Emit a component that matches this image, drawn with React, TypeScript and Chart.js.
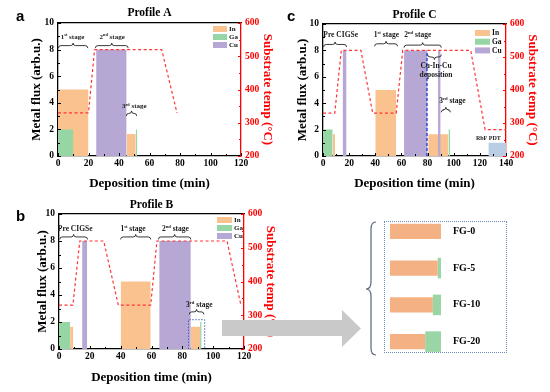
import React, { useEffect, useRef } from 'react';
import { Chart, registerables } from 'chart.js';

Chart.register(...registerables);

const SERIF = '"Liberation Serif", "Times New Roman", serif';
const SANS = '"Liberation Sans", Arial, sans-serif';

type Seg = [number, number, number]; // start, end, flux
type Pt = [number, number];

// ---------------- data ----------------
const LEGEND_LABELS = ['In', 'Ga', 'Cu'];
const X_TITLE = 'Deposition time (min)';
const Y_TITLE = 'Metal flux (arb.u.)';
const Y1_TITLE = 'Substrate temp (°C)';

// Profile A
const A_IN: Seg[] = [[0, 20, 5], [45, 51, 1.65]];
const A_GA: Seg[] = [[0, 10, 2], [51, 52, 2]];
const A_CU: Seg[] = [[25, 45, 8]];
const A_TEMP: Pt[] = [[0, 330], [20, 330], [24, 520], [68, 520], [78, 330]];

// Profile B
const B_IN: Seg[] = [[7.2, 9.3, 1.65], [40, 59.5, 5], [85.5, 91.5, 1.65]];
const B_GA: Seg[] = [[0, 7.2, 2], [91.5, 92.5, 2]];
const B_CU: Seg[] = [[15, 18.3, 8], [65, 85.5, 8]];
const B_TEMP: Pt[] = [[0, 330], [9, 330], [13.5, 520], [29, 520], [38.5, 330], [59.5, 330], [63.5, 520], [109, 520], [118, 330]];
const B_BOX: Pt[] = [[84, 0], [84, 2.17], [94.5, 2.17], [94.5, 0]];

// Profile C
const C_IN: Seg[] = [[7.4, 9.2, 1.65], [40, 56, 5], [80.5, 96, 1.65]];
const C_GA: Seg[] = [[0, 7.4, 2], [96, 97.3, 2]];
const C_CU: Seg[] = [[15, 18, 8], [62, 80, 8], [88, 90, 8]];
const C_RBF: Seg[] = [[126.5, 140, 1]];
const C_TEMP: Pt[] = [[0, 330], [9, 330], [14, 520], [29, 520], [38, 330], [56, 330], [61, 520], [113, 520], [124, 280], [140, 280]];
const C_MARK: Pt[] = [[79.5, 0], [79.5, 8]];

// FG panel
const FG_LABELS = ['FG-0', 'FG-5', 'FG-10', 'FG-20'];
const FG_IN = [100, 93.5, 84, 69];
const FG_GA = [0, 6.5, 16, 31];

// ---------------- styles ----------------
const COL: Record<string, string> = {
  In: '#F9C28F',
  Ga: '#96D6A4',
  Cu: '#B6A7D4',
  RbF: '#B9CDE5',
  temp: '#FF3535',
  red: '#FF0000',
  blue: '#3A56D8',
  fgIn: '#F4B183',
  fgGa: '#99D5A5',
};

type Brace = { x0: number; x1: number; y: number; down?: boolean };
type Label = { text: string; x: number; y: number; size?: number };
type Line = { pts: Pt[]; color: string; dash: number[]; width: number };

interface PanelCfg {
  letter: string;
  title: string;
  xMax: number;
  inSeg: Seg[];
  gaSeg: Seg[];
  cuSeg: Seg[];
  rbfSeg?: Seg[];
  temp: Pt[];
  lines?: Line[];
  braces: Brace[];
  labels: Label[];
  annSize: number;
  box: { x: number; y: number; w: number; h: number };
  pad: { left: number; right: number; bottom: number };
  yW: number;
  y1W: number;
  xH: number;
  topH: number;
  titleY: number;
  letterX: number;
  letterY: number;
  legend: { dx: number; dy: number; w: number; h: number; step: number; font: number };
}

const PANEL_A: PanelCfg = {
  letter: 'a', title: 'Profile A', xMax: 120,
  inSeg: A_IN, gaSeg: A_GA, cuSeg: A_CU, temp: A_TEMP,
  braces: [
    { x0: 0.3, x1: 19.5, y: 8.3 },
    { x0: 24.5, x1: 46, y: 8.3 },
    { x0: 44.8, x1: 51.6, y: 3.2 },
  ],
  labels: [
    { text: '1^{st} stage', x: 9.5, y: 9.0 },
    { text: '2^{nd} stage', x: 35.5, y: 9.0 },
    { text: '3^{rd} stage', x: 50, y: 3.75 },
  ],
  annSize: 7,
  box: { x: 0, y: 0, w: 280, h: 195 },
  pad: { left: 29, right: 5, bottom: 4 },
  yW: 29, y1W: 34, xH: 35, topH: 23,
  titleY: 13, letterX: 16, letterY: 21,
  legend: { dx: 28, dy: 3, w: 14, h: 6, step: 8, font: 7 },
};

const PANEL_C: PanelCfg = {
  letter: 'c', title: 'Profile C', xMax: 140,
  inSeg: C_IN, gaSeg: C_GA, cuSeg: C_CU, rbfSeg: C_RBF, temp: C_TEMP,
  lines: [{ pts: C_MARK, color: COL.blue, dash: [3, 2], width: 1.6 }],
  braces: [
    { x0: 0.5, x1: 18, y: 8.45 },
    { x0: 39.5, x1: 57, y: 8.5 },
    { x0: 62, x1: 90.5, y: 8.4 },
    { x0: 80, x1: 90.5, y: 7.5, down: true },
    { x0: 90.5, x1: 97.5, y: 3.5 },
  ],
  labels: [
    { text: 'Pre CIGSe', x: 13.5, y: 9.2 },
    { text: '1^{st} stage', x: 48.5, y: 9.2 },
    { text: '2^{nd} stage', x: 72.5, y: 9.2 },
    { text: 'Cu-In-Cu', x: 86.5, y: 6.85 },
    { text: 'deposition', x: 86.5, y: 6.15 },
    { text: '3^{rd} stage', x: 99, y: 4.2 },
    { text: 'RbF PDT', x: 126.5, y: 1.4, size: 6 },
  ],
  annSize: 7.5,
  box: { x: 275, y: 0, w: 275, h: 195 },
  pad: { left: 20, right: 10, bottom: 4 },
  yW: 28, y1W: 34, xH: 35, topH: 24,
  titleY: 15.5, letterX: 12, letterY: 21,
  legend: { dx: 31, dy: 6, w: 15, h: 6, step: 8.7, font: 7.5 },
};

const PANEL_B: PanelCfg = {
  letter: 'b', title: 'Profile B', xMax: 120,
  inSeg: B_IN, gaSeg: B_GA, cuSeg: B_CU, temp: B_TEMP,
  lines: [{ pts: B_BOX, color: '#4A62B8', dash: [1.5, 1.5], width: 1 }],
  braces: [
    { x0: 0.5, x1: 18.5, y: 8.3 },
    { x0: 40, x1: 59.5, y: 8.3 },
    { x0: 64.5, x1: 85.5, y: 8.3 },
    { x0: 84.5, x1: 94, y: 2.75 },
  ],
  labels: [
    { text: 'Pre CIGSe', x: 10.5, y: 8.95 },
    { text: '1^{st} stage', x: 48, y: 8.95 },
    { text: '2^{nd} stage', x: 75.5, y: 8.95 },
    { text: '3^{rd} stage', x: 91, y: 3.3 },
  ],
  annSize: 7.5,
  box: { x: 0, y: 195, w: 280, h: 197 },
  pad: { left: 35, right: 2, bottom: 6.5 },
  yW: 24, y1W: 34, xH: 36.5, topH: 19,
  titleY: 10.5, letterX: 16, letterY: 26,
  legend: { dx: 27, dy: 3, w: 15, h: 6, step: 8, font: 7 },
};

// ---------------- drawing helpers ----------------
function drawRich(ctx: CanvasRenderingContext2D, text: string, cx: number, cy: number, size: number, color = '#1a1a1a') {
  const parts: { t: string; sup: boolean }[] = [];
  const re = /\^\{([^}]*)\}/g;
  let last = 0;
  let m: RegExpExecArray | null;
  while ((m = re.exec(text))) {
    if (m.index > last) parts.push({ t: text.slice(last, m.index), sup: false });
    parts.push({ t: m[1], sup: true });
    last = m.index + m[0].length;
  }
  if (last < text.length) parts.push({ t: text.slice(last), sup: false });
  const supSize = size * 0.62;
  let total = 0;
  const widths: number[] = [];
  parts.forEach((p) => {
    ctx.font = `bold ${p.sup ? supSize : size}px ${SERIF}`;
    const w = ctx.measureText(p.t).width;
    widths.push(w);
    total += w;
  });
  let x = cx - total / 2;
  const base = cy + size * 0.33;
  ctx.textAlign = 'left';
  ctx.textBaseline = 'alphabetic';
  ctx.fillStyle = color;
  parts.forEach((p, i) => {
    ctx.font = `bold ${p.sup ? supSize : size}px ${SERIF}`;
    ctx.fillText(p.t, x, p.sup ? base - size * 0.4 : base);
    x += widths[i];
  });
}

function drawBrace(ctx: CanvasRenderingContext2D, x0: number, x1: number, y: number, down?: boolean) {
  const d = down ? 1 : -1;
  const h = 2.5;
  const m = (x0 + x1) / 2;
  ctx.beginPath();
  ctx.moveTo(x0, y - d * h);
  ctx.quadraticCurveTo(x0, y, x0 + h, y);
  ctx.lineTo(m - h, y);
  ctx.quadraticCurveTo(m, y, m, y + d * h);
  ctx.quadraticCurveTo(m, y, m + h, y);
  ctx.lineTo(x1 - h, y);
  ctx.quadraticCurveTo(x1, y, x1, y - d * h);
  ctx.stroke();
}

function panelPlugin(cfg: PanelCfg) {
  return {
    id: 'panelDeco',
    afterDatasetsDraw(chart: any) {
      const ctx: CanvasRenderingContext2D = chart.ctx;
      const { x, y, y1 } = chart.scales;
      const ca = chart.chartArea;
      ctx.save();
      // inward ticks
      ctx.lineWidth = 1;
      ctx.strokeStyle = '#000';
      ctx.beginPath();
      for (let v = 0; v <= cfg.xMax; v += 10) {
        const px = Math.round(x.getPixelForValue(v)) + 0.5;
        const len = v % 20 === 0 ? 3 : 2;
        ctx.moveTo(px, ca.bottom);
        ctx.lineTo(px, ca.bottom - len);
      }
      for (let v = 0; v <= 10; v += 1) {
        const py = Math.round(y.getPixelForValue(v)) + 0.5;
        const len = v % 2 === 0 ? 3 : 2;
        ctx.moveTo(ca.left, py);
        ctx.lineTo(ca.left + len, py);
      }
      ctx.stroke();
      ctx.strokeStyle = COL.red;
      ctx.beginPath();
      for (let v = 200; v <= 600; v += 50) {
        const py = Math.round(y1.getPixelForValue(v)) + 0.5;
        const len = v % 100 === 0 ? 3 : 2;
        ctx.moveTo(ca.right, py);
        ctx.lineTo(ca.right - len, py);
      }
      ctx.stroke();
      // braces
      ctx.strokeStyle = '#222';
      ctx.lineWidth = 0.9;
      cfg.braces.forEach((b) => {
        drawBrace(ctx, x.getPixelForValue(b.x0), x.getPixelForValue(b.x1), y.getPixelForValue(b.y), b.down);
      });
      // annotation labels
      cfg.labels.forEach((l) => {
        drawRich(ctx, l.text, x.getPixelForValue(l.x), y.getPixelForValue(l.y), l.size ?? cfg.annSize);
      });
      // legend
      const lg = cfg.legend;
      LEGEND_LABELS.forEach((lab, i) => {
        const bx = ca.right - lg.dx;
        const by = ca.top + lg.dy + i * lg.step;
        ctx.fillStyle = COL[lab];
        ctx.fillRect(bx, by, lg.w, lg.h);
        ctx.fillStyle = '#111';
        ctx.font = `bold ${lg.font}px ${SERIF}`;
        ctx.textAlign = 'left';
        ctx.textBaseline = 'middle';
        ctx.fillText(lab, bx + lg.w + 2, by + lg.h / 2 + 0.5);
      });
      ctx.restore();
    },
    afterDraw(chart: any) {
      const ctx: CanvasRenderingContext2D = chart.ctx;
      const ca = chart.chartArea;
      ctx.save();
      ctx.fillStyle = '#000';
      ctx.font = `bold 11.5px ${SERIF}`;
      ctx.textAlign = 'center';
      ctx.textBaseline = 'middle';
      ctx.fillText(cfg.title, (ca.left + ca.right) / 2, cfg.titleY);
      ctx.font = `bold 15px ${SANS}`;
      ctx.textAlign = 'left';
      ctx.textBaseline = 'alphabetic';
      ctx.fillText(cfg.letter, cfg.letterX, cfg.letterY);
      ctx.restore();
    },
  };
}

function buildConfig(cfg: PanelCfg): any {
  const datasets: any[] = [];
  datasets.push({
    type: 'line', label: 'temp',
    data: cfg.temp.map(([px, py]) => ({ x: px, y: py })),
    xAxisID: 'x', yAxisID: 'y1',
    borderColor: COL.temp, borderWidth: 1.2, borderDash: [3, 2.5],
    pointRadius: 0, fill: false, tension: 0, order: 0,
  });
  (cfg.lines || []).forEach((l) => {
    datasets.push({
      type: 'line', label: 'mark',
      data: l.pts.map(([px, py]) => ({ x: px, y: py })),
      xAxisID: 'x', yAxisID: 'y',
      borderColor: l.color, borderWidth: l.width, borderDash: l.dash,
      pointRadius: 0, fill: false, tension: 0, order: 1,
    });
  });
  const rect = (segs: Seg[] | undefined, color: string, order: number, label: string) => {
    (segs || []).forEach(([a, b, h]) => {
      datasets.push({
        type: 'line', label,
        data: [{ x: a, y: 0 }, { x: a, y: h }, { x: b, y: h }, { x: b, y: 0 }],
        xAxisID: 'x', yAxisID: 'y',
        fill: 'origin', backgroundColor: color, borderColor: 'rgba(0,0,0,0)', borderWidth: 0,
        pointRadius: 0, tension: 0, order,
      });
    });
  };
  rect(cfg.cuSeg, COL.Cu, 2, 'Cu');
  rect(cfg.gaSeg, COL.Ga, 3, 'Ga');
  rect(cfg.inSeg, COL.In, 4, 'In');
  rect(cfg.rbfSeg, COL.RbF, 5, 'RbF');

  const tickFont = { family: SERIF, size: 9.5, weight: 'bold' as const };
  const titleFont = { family: SERIF, size: 13, weight: 'bold' as const, lineHeight: 1.2 };

  return {
    type: 'line',
    data: { datasets },
    options: {
      responsive: false,
      animation: false,
      events: [],
      layout: { padding: { left: cfg.pad.left, right: cfg.pad.right, top: 0, bottom: cfg.pad.bottom } },
      plugins: { legend: { display: false }, tooltip: { enabled: false }, title: { display: false } },
      scales: {
        x: {
          type: 'linear', position: 'bottom', min: 0, max: cfg.xMax,
          ticks: { stepSize: 20, color: '#000', font: tickFont, padding: 2, maxRotation: 0, autoSkip: false },
          grid: { display: false, drawTicks: false },
          border: { color: '#000', width: 1.3 },
          title: { display: true, text: X_TITLE, color: '#000', font: titleFont, padding: 0 },
          afterFit: (s: any) => { s.height = cfg.xH; },
        },
        xTop: {
          axis: 'x', type: 'linear', position: 'top', min: 0, max: cfg.xMax,
          ticks: { display: false },
          grid: { display: false, drawTicks: false },
          border: { color: '#000', width: 1.3 },
          afterFit: (s: any) => { s.height = cfg.topH; },
        },
        y: {
          type: 'linear', position: 'left', min: 0, max: 10,
          ticks: { stepSize: 2, color: '#000', font: tickFont, padding: 4 },
          grid: { display: false, drawTicks: false },
          border: { color: '#000', width: 1.3 },
          title: { display: true, text: Y_TITLE, color: '#000', font: titleFont, padding: 0 },
          afterFit: (s: any) => { s.width = cfg.yW; },
        },
        y1: {
          type: 'linear', position: 'right', min: 200, max: 600,
          ticks: { stepSize: 100, color: COL.red, font: tickFont, padding: 4 },
          grid: { display: false, drawTicks: false },
          border: { color: COL.red, width: 1.3 },
          title: { display: true, text: Y1_TITLE, color: COL.red, font: titleFont, padding: 0 },
          afterFit: (s: any) => { s.width = cfg.y1W; },
        },
      },
    },
    plugins: [panelPlugin(cfg)],
  };
}

function Panel({ cfg }: { cfg: PanelCfg }) {
  const ref = useRef<HTMLCanvasElement>(null);
  useEffect(() => {
    const chart = new Chart(ref.current as HTMLCanvasElement, buildConfig(cfg));
    return () => chart.destroy();
  }, [cfg]);
  return (
    <canvas
      ref={ref}
      width={cfg.box.w}
      height={cfg.box.h}
      style={{ position: 'absolute', left: cfg.box.x, top: cfg.box.y, width: cfg.box.w, height: cfg.box.h }}
    />
  );
}

function FGChart() {
  const ref = useRef<HTMLCanvasElement>(null);
  useEffect(() => {
    const chart = new Chart(ref.current as HTMLCanvasElement, {
      type: 'bar',
      data: {
        labels: FG_LABELS,
        datasets: [
          { label: 'In', data: FG_IN, backgroundColor: COL.fgIn, barPercentage: 0.41, categoryPercentage: 1 },
          { label: 'Ga', data: FG_GA, backgroundColor: COL.fgGa, barPercentage: 0.56, categoryPercentage: 1 },
        ],
      },
      options: {
        indexAxis: 'y',
        responsive: false,
        animation: false,
        events: [],
        layout: { padding: { left: 5, top: 3, bottom: 5, right: 0 } },
        plugins: { legend: { display: false }, tooltip: { enabled: false } },
        scales: {
          x: { stacked: true, min: 0, max: 100, display: false },
          y: {
            stacked: true, position: 'right',
            grid: { display: false, drawTicks: false },
            border: { display: false },
            ticks: { color: '#000', font: { family: SERIF, size: 10, weight: 'bold' }, padding: 12 },
            afterFit: (s: any) => { s.width = 64; s.paddingTop = 0; s.paddingBottom = 0; },
          },
        },
      } as any,
    });
    return () => chart.destroy();
  }, []);
  return (
    <canvas
      ref={ref}
      width={120}
      height={155}
      style={{ position: 'absolute', left: 385, top: 210, width: 120, height: 155 }}
    />
  );
}

export default function App() {
  return (
    <div style={{ position: 'fixed', left: 0, top: 0, width: 550, height: 392, background: '#fff', overflow: 'hidden' }}>
      <Panel cfg={PANEL_A} />
      <Panel cfg={PANEL_C} />
      <Panel cfg={PANEL_B} />
      <div
        style={{
          position: 'absolute', left: 384, top: 221, width: 121, height: 130,
          border: '1px dotted #6C8CC0',
        }}
      />
      <FGChart />
      <svg
        width={550}
        height={392}
        style={{ position: 'absolute', left: 0, top: 0, pointerEvents: 'none' }}
      >
        <polygon points="222,320 342,320 342,310 361,328.5 342,347 342,336 222,336" fill="#C9C9C9" />
        <path
          d="M 376 222 Q 371 222 371 229 L 371 282 Q 371 289 366 289 Q 371 289 371 296 L 371 348 Q 371 355 376 355"
          fill="none"
          stroke="#55657D"
          strokeWidth={1.2}
        />
      </svg>
    </div>
  );
}
